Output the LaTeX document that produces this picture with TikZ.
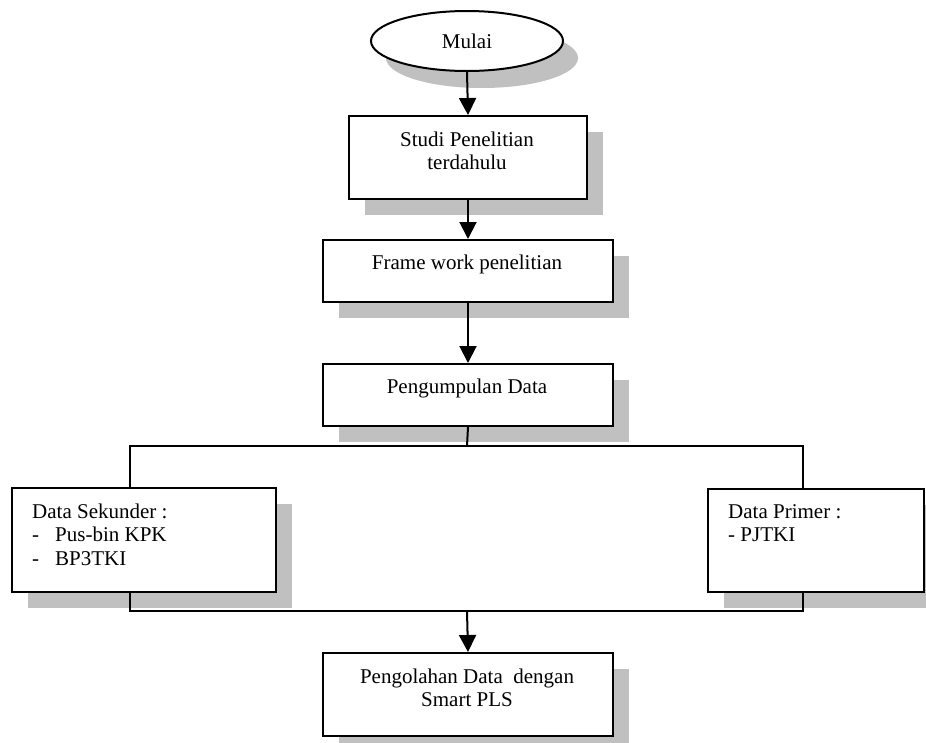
\documentclass[tikz,border=0pt]{standalone}
\usepackage{fontspec}
\setmainfont{Liberation Serif}
\usetikzlibrary{shapes.geometric,shadows,arrows.meta}
\definecolor{shade}{RGB}{192,192,192}
\begin{document}
\begin{tikzpicture}[x=1pt,y=-1pt,
  every node/.style={font=\fontsize{21}{23.5}\selectfont},
  boxshadow/.style={drop shadow={shadow xshift=16pt,shadow yshift=-16pt,fill=shade,opacity=1}},
  box/.style={draw,line width=2pt,fill=white,rectangle,inner sep=0pt,anchor=north west,boxshadow},
  startnode/.style={draw,line width=2pt,fill=white,ellipse,inner sep=0pt,
    minimum width=192pt,minimum height=60pt,
    drop shadow={shadow xshift=15pt,shadow yshift=-17pt,fill=shade,opacity=1}},
  caption/.style={inner sep=0pt,align=center,anchor=north},
  leftcaption/.style={inner sep=0pt,align=left,anchor=north west},
  link/.style={line width=2pt},
  flow/.style={link,-{Triangle[length=17pt,width=17pt]}}]

\useasboundingbox (0,0) rectangle (926,742);

% start terminal
\node[startnode] (mulai) at (467,41) {Mulai};

% process boxes
\node[box,minimum width=238pt,minimum height=83pt] (studi) at (348,115) {};
\node[caption] (studiT) at (467,129.5) {\strut Studi Penelitian\\terdahulu};

\node[box,minimum width=290pt,minimum height=62pt] (frame) at (322,239) {};
\node[caption] (frameT) at (467,252.5) {\strut Frame work penelitian};

\node[box,minimum width=290pt,minimum height=62pt] (kumpul) at (322,363) {};
\node[caption] (kumpulT) at (467,376.5) {\strut Pengumpulan Data};

\node[box,minimum width=264pt,minimum height=104pt] (sekunder) at (11,487) {};
\node[leftcaption] (sekunderT) at (32,501.5)
  {\strut Data Sekunder :\\\makebox[23pt][l]{-}Pus-bin KPK\\\makebox[23pt][l]{-}BP3TKI};

\node[box,minimum width=216pt,minimum height=103pt] (primer) at (707,488) {};
\node[leftcaption] (primerT) at (728,501.5) {\strut Data Primer :\\- PJTKI};

\node[box,minimum width=290pt,minimum height=83pt] (olah) at (322,652) {};
\node[caption] (olahT) at (467,666.5) {\strut Pengolahan Data~~dengan\\Smart PLS};

% branch and merge points
\coordinate (splitL) at (130,446);
\coordinate (splitR) at (803,446);
\coordinate (splitC) at (467,446);
\coordinate (joinL) at (130,611);
\coordinate (joinR) at (803,611);
\coordinate (joinC) at (467,611);

% connectors
\draw[flow] (mulai.south) -- (studi.north);
\draw[flow] (studi.south) -- (frame.north);
\draw[flow] (frame.south) -- (kumpul.north);
\draw[link] (kumpul.south) -- (splitC);
\draw[link] (splitL |- sekunder.north) -- (splitL) -- (splitR) -- (splitR |- primer.north);
\draw[link] (joinL |- sekunder.south) -- (joinL) -- (joinR) -- (joinR |- primer.south);
\draw[flow] (joinC) -- (olah.north);
\end{tikzpicture}
\end{document}
